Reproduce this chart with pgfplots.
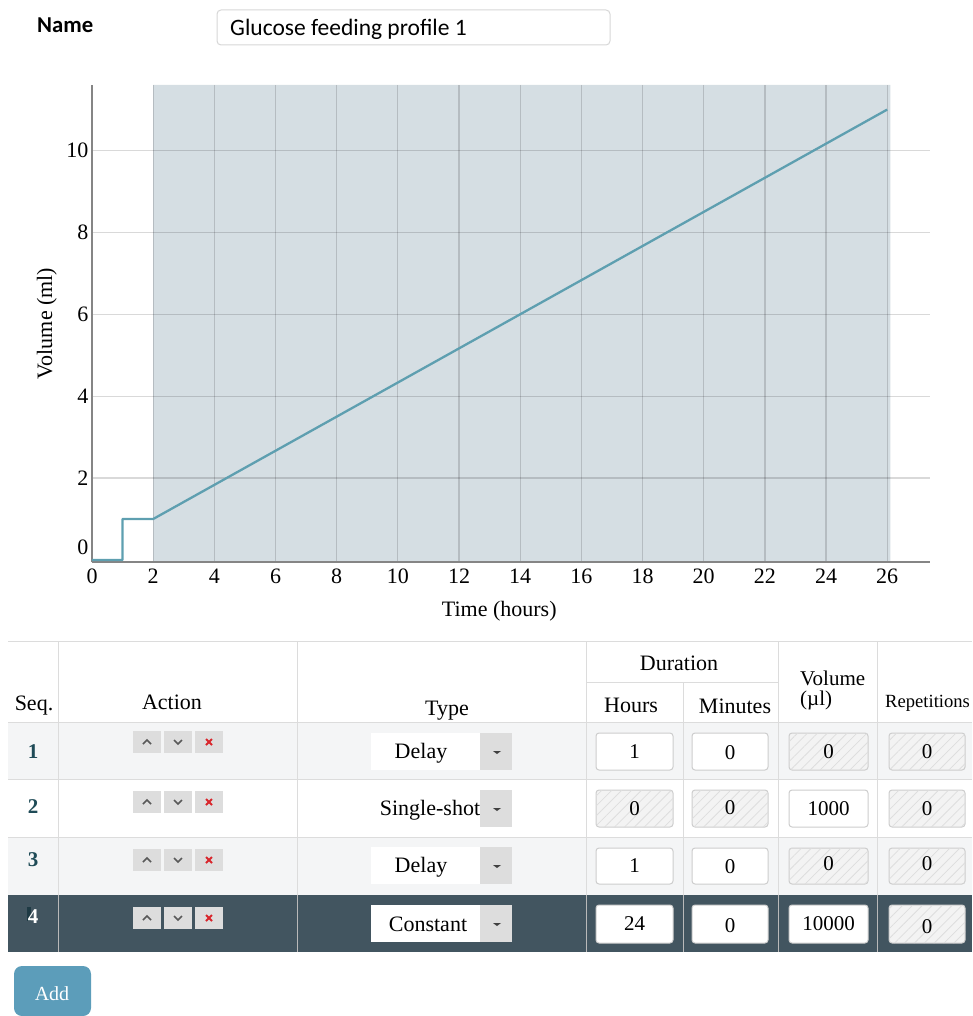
\documentclass[border=0pt]{standalone}
\usepackage{pgfplots}
\pgfplotsset{compat=1.18}
\usepackage{fontspec}
\setmainfont{Liberation Serif}
\newfontfamily\uifont{Carlito}
\usetikzlibrary{patterns.meta}
\definecolor{shade}{HTML}{D5DEE3}
\definecolor{axgray}{HTML}{858585}
\definecolor{linecol}{HTML}{5E9FB0}
\definecolor{rowlight}{HTML}{F4F5F6}
\definecolor{rowdark}{HTML}{425560}
\definecolor{tline}{HTML}{DCDCDC}
\definecolor{seqcol}{HTML}{1F4B57}
\definecolor{btn}{HTML}{DDDDDD}
\definecolor{addbtn}{HTML}{5C9DBA}
\definecolor{boxborder}{HTML}{CDCDCD}
\definecolor{hatchbg}{HTML}{F3F3F3}
\definecolor{hatchline}{HTML}{DEDEDE}
\definecolor{xred}{HTML}{D8262C}
\definecolor{seqbox}{HTML}{1E3A44}
\newcommand\fs[1]{\fontsize{#1}{#1}\selectfont}
% input boxes: x1 y1 x2 y2 baseline text
\newcommand\inbox[6]{%
  \filldraw[draw=boxborder, fill=white, rounded corners=3pt, line width=1pt] (#1,#2) rectangle (#3,#4);
  \node[anchor=base, font=\fs{21}] at ({(#1+#3)/2},#5) {#6};}
\newcommand\hatchbox[6]{%
  \filldraw[draw=boxborder, fill=hatchbg, rounded corners=3pt, line width=1pt] (#1,#2) rectangle (#3,#4);
  \fill[pattern={Lines[angle=45,distance=7pt,line width=0.8pt]}, pattern color=hatchline, rounded corners=3pt] (#1,#2) rectangle (#3,#4);
  \node[anchor=base, font=\fs{21}] at ({(#1+#3)/2},#5) {#6};}
% action buttons: top y
\newcommand\actions[1]{%
  \fill[btn] (133,#1) rectangle (161,#1+22);
  \fill[btn] (164,#1) rectangle (192,#1+22);
  \fill[btn] (195,#1) rectangle (223,#1+22);
  \draw[black!65, line width=1.6pt] (143,#1+13) -- (147,#1+9) -- (151,#1+13);
  \draw[black!65, line width=1.6pt] (174,#1+9) -- (178,#1+13) -- (182,#1+9);
  \draw[xred, line width=2pt] (206,#1+8) -- (212,#1+14) (206,#1+14) -- (212,#1+8);}
% dropdown: top y, baseline, text x, text
\newcommand\dropdown[4]{%
  \fill[white] (371,#1) rectangle (480,#1+37);
  \fill[btn] (480,#1) rectangle (512,#1+37);
  \fill[black!75] (493,#1+18) -- (501,#1+18) -- (497,#1+21) -- cycle;
  \node[anchor=base, font=\fs{22}] at (#3,#2) {#4};}
\begin{document}
\begin{tikzpicture}
\path (0,0) rectangle (972pt,-1016pt);
\begin{axis}[
  at={(92pt,-562pt)}, anchor=south west,
  scale only axis, width=838pt, height=477pt,
  xmin=0, xmax=27.4, ymin=-0.05, ymax=11.6,
  set layers=standard,
  axis lines*=left,
  axis line style={draw=axgray, line width=2.2pt},
  xtick={0,2,...,26}, ytick={2,4,...,10},
  extra y ticks={0.3}, extra y tick labels={0},
  extra y tick style={grid=none},
  major tick length=0pt,
  grid=major,
  grid style={black, opacity=0.15, line width=1.3pt},
  tick label style={font=\fs{22}},
  xticklabel style={yshift=-3pt},
  /pgf/number format/assume math mode=true,
  xlabel={Time (hours)}, ylabel={Volume (ml)},
  every axis x label/.style={at={(axis description cs:0.486,-0.103)}, anchor=center, font=\fs{22}},
  every axis y label/.style={at={(axis description cs:-0.054,0.5)}, anchor=center, rotate=90, font=\fs{22}},
]
\addplot[fill=shade, draw=none, on layer=axis background]
  coordinates {(2,-0.05) (26.1,-0.05) (26.1,11.6) (2,11.6) (2,-0.05)};
\addplot[color=linecol, line width=2.3pt, line join=round]
  coordinates {(0,0) (1,0) (1,1) (2,1) (26,11)};
\end{axis}
\begin{scope}[x=1pt, y=-1pt, every node/.style={inner sep=0pt}]
  % name field
  \node[anchor=base west, font=\uifont\bfseries\fs{22.7}] at (37,33) {Name};
  \filldraw[draw=boxborder!80, fill=white, rounded corners=4pt, line width=1pt] (217,10) rectangle (610,45);
  \node[anchor=base west, font=\uifont\fs{23.5}] at (230,36) {Glucose feeding profile 1};
  % table backgrounds
  \fill[rowlight] (8,722) rectangle (972,779);
  \fill[rowlight] (8,837) rectangle (972,895);
  \fill[rowdark] (8,895) rectangle (972,952);
  % lines
  \draw[tline, line width=1pt] (8,641) -- (972,641);
  \draw[tline, line width=1pt] (586,682) -- (778,682);
  \foreach \yy in {722,779,837} {\draw[tline, line width=1pt] (8,\yy) -- (972,\yy);}
  \foreach \xx in {58,297,586,778,877} {\draw[tline, line width=1pt] (\xx,641) -- (\xx,895);}
  \draw[tline, line width=1pt] (683,682) -- (683,895);
  \foreach \xx in {58,297,586,683,778,877} {\draw[gray!55, line width=1pt] (\xx,895) -- (\xx,952);}
  % header text
  \node[anchor=base, font=\fs{22}] at (34,710) {Seq.};
  \node[anchor=base, font=\fs{22}] at (172,709) {Action};
  \node[anchor=base, font=\fs{22}] at (447,715) {Type};
  \node[anchor=base, font=\fs{22}] at (679,670) {Duration};
  \node[anchor=base, font=\fs{22}] at (631,712) {Hours};
  \node[anchor=base, font=\fs{22}] at (735,713) {Minutes};
  \node[anchor=base west, align=left, font=\fontsize{21}{20}\selectfont] at (800,705) {Volume\\(µl)};
  \node[anchor=base west, font=\fs{18.6}] at (885,707) {Repetitions};
  % seq numbers
  \node[anchor=base, font=\bfseries\fs{21}, text=seqcol] at (33,758) {1};
  \node[anchor=base, font=\bfseries\fs{21}, text=seqcol] at (33,813) {2};
  \node[anchor=base, font=\bfseries\fs{21}, text=seqcol] at (33,866) {3};
  \fill[seqbox] (27,907) rectangle (31,921);
  \node[anchor=base, font=\bfseries\fs{21}, text=white] at (33,923) {4};
  % action buttons
  \actions{731}
  \actions{791}
  \actions{849}
  \actions{907}
  % dropdowns
  \dropdown{733}{758}{421}{Delay}
  \dropdown{790}{815}{430}{Single-shot}
  \dropdown{847}{872}{421}{Delay}
  \dropdown{905}{931}{428}{Constant}
  % row 1
  \inbox{596}{733}{673}{770}{758}{1}
  \inbox{692}{733}{768}{770}{759}{0}
  \hatchbox{789}{733}{868}{770}{758}{0}
  \hatchbox{889}{733}{965}{770}{758}{0}
  % row 2
  \hatchbox{596}{790}{673}{827}{815}{0}
  \hatchbox{692}{790}{768}{827}{814}{0}
  \inbox{789}{790}{868}{827}{815}{1000}
  \hatchbox{889}{790}{965}{827}{815}{0}
  % row 3
  \inbox{596}{848}{673}{884}{872}{1}
  \inbox{692}{848}{768}{884}{873}{0}
  \hatchbox{789}{848}{868}{884}{870}{0}
  \hatchbox{889}{848}{965}{884}{870}{0}
  % row 4
  \inbox{596}{905}{673}{943}{930}{24}
  \inbox{692}{905}{768}{943}{932}{0}
  \inbox{789}{905}{868}{943}{930}{10000}
  \hatchbox{889}{905}{965}{943}{933}{0}
  % add button
  \fill[addbtn, rounded corners=8pt] (14,966) rectangle (91,1016);
  \node[anchor=base, font=\fs{20}, text=white] at (52,1000) {Add};
\end{scope}
\end{tikzpicture}
\end{document}
